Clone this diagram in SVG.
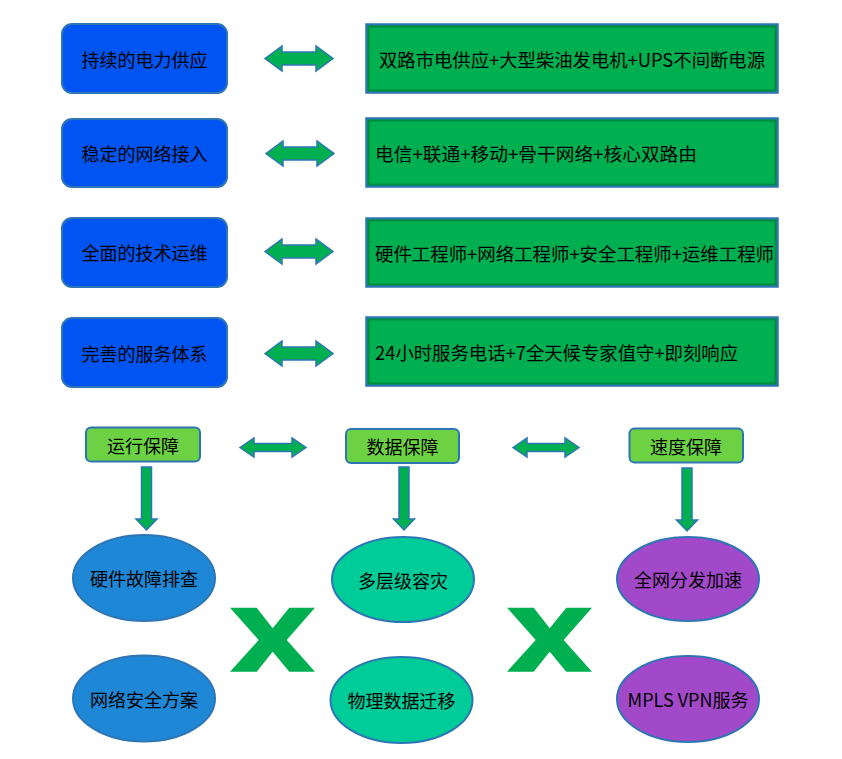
<svg xmlns="http://www.w3.org/2000/svg" width="842" height="759" viewBox="0 0 842 759">
<defs>
<style>
text{font-family:"Noto Sans CJK SC","Microsoft YaHei",sans-serif;font-size:18px;fill:#000;}
.c{text-anchor:middle;dominant-baseline:central;}
.l{text-anchor:start;dominant-baseline:central;}
.bbox{fill:#0055F2;stroke:#2E75B6;stroke-width:2;}
.gbox{fill:#00B050;stroke:#2E75B6;stroke-width:2.5;}
.gin{fill:none;stroke:#008A3E;stroke-width:2;}
.lbox{fill:#6DD144;stroke:#2E75B6;stroke-width:2;}
.arr{fill:#00B050;stroke:#2E75B6;stroke-width:1.5;stroke-linejoin:miter;}
.xs{fill:#00B050;}
.e{stroke:#2E75B6;stroke-width:2;}
.eb{fill:#1F88D6;}
.et{fill:#00CC99;}
.ep{fill:#A249C9;}
</style>
<polygon id="dbl" points="0,12.5 17,0 17,6 51,6 51,0 68,12.5 51,25 51,19 17,19 17,25"/>
<polygon id="dbls" points="0,9.5 14,0 14,5.5 52,5.5 52,0 66,9.5 52,19 52,13.5 14,13.5 14,19"/>
<polygon id="down" points="-5,0 5,0 5,52 10.5,52 0,63 -10.5,52 -5,52"/>
<polygon id="xs" points="230,607.7 256.7,607.7 272.7,628.3 289.3,607.7 315,607.7 286.7,640 315,671.7 289.3,671.7 272.7,651.7 256.7,671.7 230,671.7 258.7,640"/>
</defs>
<rect width="842" height="759" fill="#fff"/>

<g id="row1-left"><rect class="bbox" x="62" y="24" width="165" height="69" rx="10"/><text class="c" x="144.5" y="58.5">持续的电力供应</text></g>
<g id="row2-left"><rect class="bbox" x="62" y="119" width="165" height="68" rx="10"/><text class="c" x="144.5" y="153">稳定的网络接入</text></g>
<g id="row3-left"><rect class="bbox" x="62" y="218" width="165" height="69" rx="10"/><text class="c" x="144.5" y="252">全面的技术运维</text></g>
<g id="row4-left"><rect class="bbox" x="62" y="318" width="165" height="69" rx="10"/><text class="c" x="144.5" y="353">完善的服务体系</text></g>

<g id="row1-right"><rect class="gbox" x="366.5" y="24.5" width="411" height="68"/><rect class="gin" x="368.5" y="26.5" width="407" height="64"/><text class="c" x="572" y="58.5" textLength="386" lengthAdjust="spacingAndGlyphs">双路市电供应+大型柴油发电机+UPS不间断电源</text></g>
<g id="row2-right"><rect class="gbox" x="366.5" y="118.5" width="411" height="68"/><rect class="gin" x="368.5" y="120.5" width="407" height="64"/><text class="l" x="375" y="153" textLength="322" lengthAdjust="spacingAndGlyphs">电信+联通+移动+骨干网络+核心双路由</text></g>
<g id="row3-right"><rect class="gbox" x="366.5" y="218.5" width="411" height="68"/><rect class="gin" x="368.5" y="220.5" width="407" height="64"/><text class="l" x="375" y="253" textLength="399" lengthAdjust="spacingAndGlyphs">硬件工程师+网络工程师+安全工程师+运维工程师</text></g>
<g id="row4-right"><rect class="gbox" x="366.5" y="317.5" width="411" height="68"/><rect class="gin" x="368.5" y="319.5" width="407" height="64"/><text class="l" x="375" y="352" textLength="363" lengthAdjust="spacingAndGlyphs">24小时服务电话+7全天候专家值守+即刻响应</text></g>

<g id="label-run"><rect class="lbox" x="86" y="427.5" width="114" height="34" rx="5"/><text class="c" x="143" y="444.5">运行保障</text></g>
<g id="label-data"><rect class="lbox" x="346" y="429" width="113" height="34" rx="5"/><text class="c" x="402.5" y="446">数据保障</text></g>
<g id="label-speed"><rect class="lbox" x="629.5" y="428.5" width="113.5" height="34" rx="5"/><text class="c" x="686" y="445.5">速度保障</text></g>

<g id="node-hw"><ellipse class="e eb" cx="144" cy="578" rx="71" ry="43"/><text class="c" x="144" y="578">硬件故障排查</text></g>
<g id="node-sec"><ellipse class="e eb" cx="144" cy="698.5" rx="71" ry="43"/><text class="c" x="144" y="698.5">网络安全方案</text></g>
<g id="node-dr"><ellipse class="e et" cx="403" cy="579.5" rx="71" ry="42.5"/><text class="c" x="403" y="579.5">多层级容灾</text></g>
<g id="node-mig"><ellipse class="e et" cx="401.5" cy="700" rx="71" ry="43"/><text class="c" x="401.5" y="700">物理数据迁移</text></g>
<g id="node-cdn"><ellipse class="e ep" cx="688" cy="579" rx="71" ry="42"/><text class="c" x="688" y="579">全网分发加速</text></g>
<g id="node-mpls"><ellipse class="e ep" cx="688" cy="699" rx="71" ry="43"/><text class="c" x="688" y="699">MPLS VPN服务</text></g>

<g id="connectors">
<use href="#dbl" class="arr" x="265" y="46"/>
<use href="#dbl" class="arr" x="266" y="141"/>
<use href="#dbl" class="arr" x="265" y="239"/>
<use href="#dbl" class="arr" x="265" y="341"/>
<use href="#dbls" class="arr" x="240" y="438"/>
<use href="#dbls" class="arr" x="513" y="438"/>
<use href="#down" class="arr" x="146.5" y="467"/>
<use href="#down" class="arr" x="404" y="467"/>
<use href="#down" class="arr" x="687" y="468"/>
<use href="#xs" class="xs"/>
<use href="#xs" class="xs" x="277"/>
</g>
</svg>
